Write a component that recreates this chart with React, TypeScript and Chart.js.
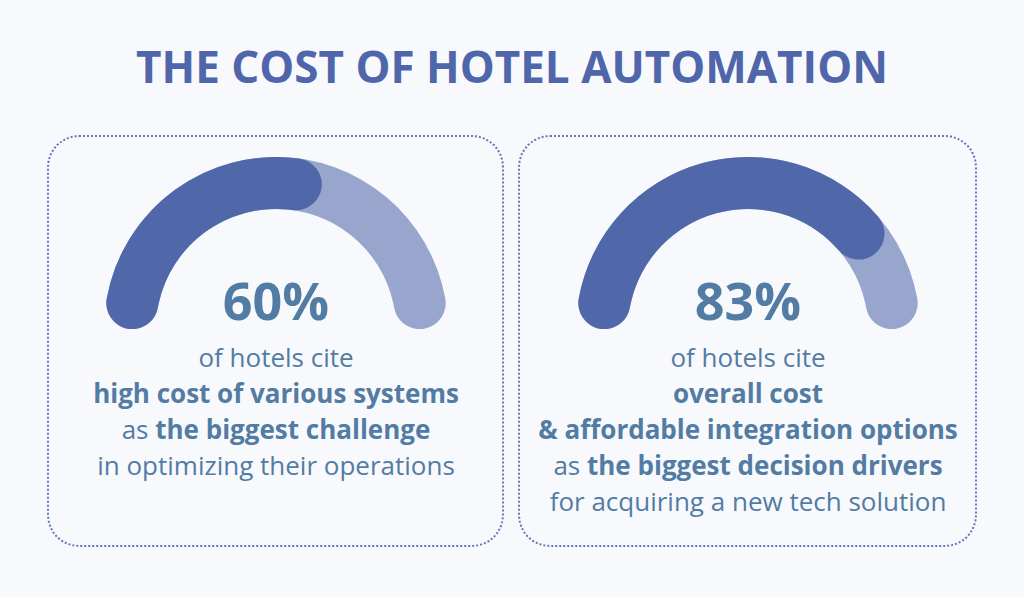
import { useEffect, useRef } from "react"
import { Chart, registerables } from "chart.js"

Chart.register(...registerables)

// data
const gaugeValues = [60, 83]
const gaugeCenters = [276, 748]
const gaugeTexts: { text: string; bold: boolean }[][][] = [
  [
    [{ text: "of hotels cite", bold: false }],
    [{ text: "high cost of various systems", bold: true }],
    [{ text: "as ", bold: false }, { text: "the biggest challenge", bold: true }],
    [{ text: "in optimizing their operations", bold: false }],
  ],
  [
    [{ text: "of hotels cite", bold: false }],
    [{ text: "overall cost", bold: true }],
    [{ text: "& affordable integration options", bold: true }],
    [{ text: "as ", bold: false }, { text: "the biggest decision drivers", bold: true }],
    [{ text: "for acquiring a new tech solution", bold: false }],
  ],
]
const title = "THE COST OF HOTEL AUTOMATION"

const DARK = "#5068aa"
const LIGHT = "#98a6cd"
const TEXT = "#527ca3"
const FONT = "'Open Sans', sans-serif"

const R = 172
const CY = 329

function Gauge({ value, cx }: { value: number; cx: number }) {
  const trackRef = useRef<HTMLCanvasElement>(null)
  const valueRef = useRef<HTMLCanvasElement>(null)

  useEffect(() => {
    if (!trackRef.current || !valueRef.current) return

    const common: any = {
      responsive: true,
      maintainAspectRatio: false,
      animation: false,
      events: [],
      rotation: -90,
      circumference: 180,
      cutout: "69.8%",
      layout: { padding: 0 },
      plugins: { legend: { display: false }, tooltip: { enabled: false } },
    }

    // full light track underneath
    const track = new Chart(trackRef.current, {
      type: "doughnut",
      data: {
        labels: ["track"],
        datasets: [{ data: [100], backgroundColor: [LIGHT], borderWidth: 0, borderRadius: 26 }],
      },
      options: common,
    })

    // value arc on top, rounded ends overlap the track
    const val = new Chart(valueRef.current, {
      type: "doughnut",
      data: {
        labels: ["value", "rest"],
        datasets: [
          {
            data: [value, 100 - value],
            backgroundColor: [DARK, "rgba(0,0,0,0)"],
            borderWidth: 0,
            borderRadius: [26, 0],
          },
        ],
      },
      options: common,
    })

    return () => {
      track.destroy()
      val.destroy()
    }
  }, [value])

  const box: React.CSSProperties = {
    position: "absolute",
    left: cx - R,
    top: CY - R,
    width: 2 * R,
    height: R,
  }

  return (
    <>
      <div style={box}>
        <canvas ref={trackRef}></canvas>
      </div>
      <div style={box}>
        <canvas ref={valueRef}></canvas>
      </div>
    </>
  )
}

export default function App() {
  return (
    <div
      style={{
        position: "fixed",
        left: 0,
        top: 0,
        width: 1024,
        height: 597,
        background: "#f7f9fc",
        fontFamily: FONT,
        overflow: "hidden",
      }}
    >
      <div
        style={{
          position: "absolute",
          left: 0,
          width: 1024,
          top: 44,
          textAlign: "center",
          fontSize: 44,
          lineHeight: "44px",
          fontWeight: 700,
          color: "#4f66aa",
        }}
      >
        {title}
      </div>

      {/* dotted boxes */}
      <div
        style={{
          position: "absolute",
          left: 47,
          top: 135,
          width: 457 - 4,
          height: 412 - 4,
          border: "2px dotted #6476bd",
          borderRadius: 32,
        }}
      />
      <div
        style={{
          position: "absolute",
          left: 518,
          top: 135,
          width: 459 - 4,
          height: 412 - 4,
          border: "2px dotted #6476bd",
          borderRadius: 32,
        }}
      />

      {gaugeValues.map((v, i) => (
        <Gauge key={i} value={v} cx={gaugeCenters[i]} />
      ))}

      {gaugeValues.map((v, i) => (
        <div
          key={"p" + i}
          style={{
            position: "absolute",
            left: gaugeCenters[i] - 150,
            width: 300,
            top: 274,
            textAlign: "center",
            fontSize: 52,
            lineHeight: "52px",
            fontWeight: 700,
            color: TEXT,
          }}
        >
          {v}%
        </div>
      ))}

      {gaugeTexts.map((lines, i) => (
        <div
          key={"t" + i}
          style={{
            position: "absolute",
            left: gaugeCenters[i] - 230,
            width: 460,
            top: 339,
            textAlign: "center",
            fontSize: 26,
            lineHeight: "36px",
            color: TEXT,
            whiteSpace: "nowrap",
          }}
        >
          {lines.map((parts, j) => (
            <div key={j}>
              {parts.map((p, k) => (
                <span key={k} style={{ fontWeight: p.bold ? 700 : 400 }}>
                  {p.text}
                </span>
              ))}
            </div>
          ))}
        </div>
      ))}
    </div>
  )
}
